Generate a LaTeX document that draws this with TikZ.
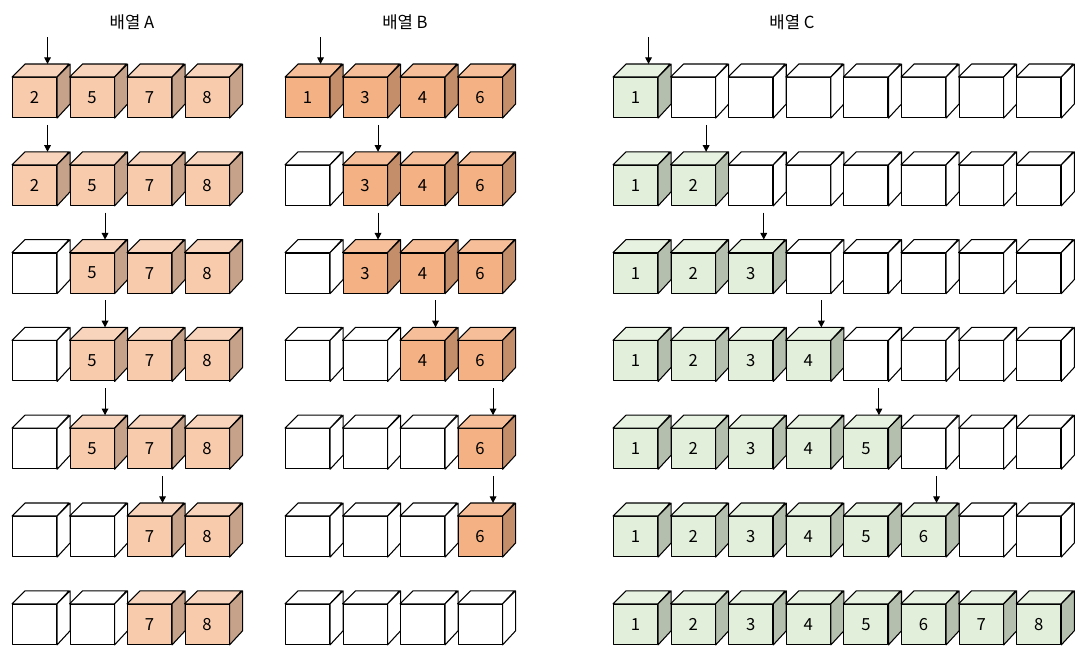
\documentclass[tikz,border=0pt]{standalone}
\usepackage{fontspec}
\setmainfont{Noto Sans CJK KR}
\usetikzlibrary{arrows.meta}

\definecolor{cAF}{HTML}{F8CBAD}
\colorlet{cAT}{cAF!82!white}
\colorlet{cAS}{cAF!80!black}
\definecolor{cBF}{HTML}{F4B183}
\colorlet{cBT}{cBF!82!white}
\colorlet{cBS}{cBF!80!black}
\definecolor{cCF}{HTML}{E2EFDA}
\colorlet{cCT}{cCF!82!white}
\colorlet{cCS}{cCF!80!black}
\colorlet{emptyF}{white}
\colorlet{emptyT}{white}
\colorlet{emptyS}{white}

\tikzset{
  face/.style={draw, line width=0.8pt, line join=round},
  front/.style={face, minimum width=33pt, minimum height=30pt, inner sep=0pt, anchor=north west},
  pointer/.style={-{Triangle[length=5pt,width=5pt]}, line width=0.8pt},
}

% name, x, y, colour set, label
\newcommand{\cubecell}[5]{%
  \node[front, fill=#4F] (#1) at (#2,#3) {#5};
  \filldraw[face, fill=#4T] (#1.north west) -- ++(13,-13) -- ++(44,0) -- (#1.north east) -- cycle;
  \filldraw[face, fill=#4S] (#1.north east) -- ++(13,-13) -- ++(0,40) -- (#1.south east) -- cycle;
}

\begin{document}
\begin{tikzpicture}[x=0.75pt,y=-0.75pt,font=\fontsize{12.5}{15}\selectfont]
  \useasboundingbox (0,0) rectangle (1087,661);

  \node (titleA) at (132,22) {배열 A};
  \node (titleB) at (405,22) {배열 B};
  \node (titleC) at (792,22) {배열 C};

  % array A
  \foreach \r/\p/\q/\s/\t in {0/2/5/7/8,1/2/5/7/8,2/0/5/7/8,3/0/5/7/8,4/0/5/7/8,5/0/0/7/8,6/0/0/7/8}
  {
    \foreach \i/\v in {0/\p,1/\q,2/\s,3/\t}
    {
      \ifnum\v=0 \cubecell{a\r\i}{12+57.5*\i}{77+87.8*\r}{empty}{}
      \else \cubecell{a\r\i}{12+57.5*\i}{77+87.8*\r}{cA}{\v}\fi
    }
  }
  \foreach \r/\i in {0/0,1/0,2/1,3/1,4/1,5/2}
  {
    \coordinate (pa\r) at ([shift={(13,-40)}]a\r\i.north);
    \coordinate (ta\r) at ([shift={(13,-13)}]a\r\i.north);
    \draw[pointer] (pa\r) -- (ta\r);
  }

  % array B
  \foreach \r/\p/\q/\s/\t in {0/1/3/4/6,1/0/3/4/6,2/0/3/4/6,3/0/0/4/6,4/0/0/0/6,5/0/0/0/6,6/0/0/0/0}
  {
    \foreach \i/\v in {0/\p,1/\q,2/\s,3/\t}
    {
      \ifnum\v=0 \cubecell{b\r\i}{285+57.5*\i}{77+87.8*\r}{empty}{}
      \else \cubecell{b\r\i}{285+57.5*\i}{77+87.8*\r}{cB}{\v}\fi
    }
  }
  \foreach \r/\i in {0/0,1/1,2/1,3/2,4/3,5/3}
  {
    \coordinate (pb\r) at ([shift={(13,-40)}]b\r\i.north);
    \coordinate (tb\r) at ([shift={(13,-13)}]b\r\i.north);
    \draw[pointer] (pb\r) -- (tb\r);
  }

  % array C
  \foreach \r/\k in {0/1,1/2,2/3,3/4,4/5,5/6,6/8}
  {
    \foreach \i in {0,1,...,7}
    {
      \pgfmathtruncatemacro\n{\i+1}
      \ifnum\i<\k \cubecell{c\r\i}{613+57.6*\i}{77+87.8*\r}{cC}{\n}
      \else \cubecell{c\r\i}{613+57.6*\i}{77+87.8*\r}{empty}{}\fi
    }
  }
  \foreach \r in {0,1,...,5}
  {
    \coordinate (pc\r) at ([shift={(13,-40)}]c\r\r.north);
    \coordinate (tc\r) at ([shift={(13,-13)}]c\r\r.north);
    \draw[pointer] (pc\r) -- (tc\r);
  }
\end{tikzpicture}
\end{document}
